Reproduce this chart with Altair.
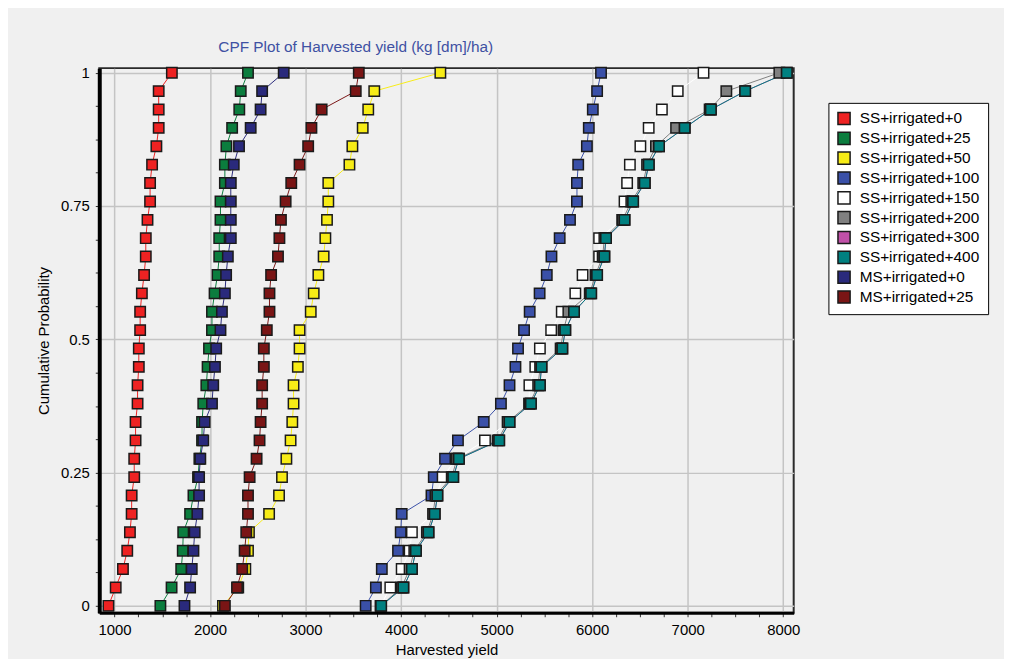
import altair as alt
import pandas as pd

FONT = "Liberation Sans"

series_names = [
    "SS+irrigated+0", "SS+irrigated+25", "SS+irrigated+50", "SS+irrigated+100",
    "SS+irrigated+150", "SS+irrigated+200", "SS+irrigated+300", "SS+irrigated+400",
    "MS+irrigated+0", "MS+irrigated+25",
]
series_colors = [
    "#ee2222", "#0b7d3e", "#f7ec16", "#3a50a8", "#ffffff",
    "#808080", "#c050a8", "#008080", "#2a2a7c", "#7a1515",
]

# cumulative probability levels (30 ranked years)
probabilities = [
    0.0, 0.0345, 0.0690, 0.1034, 0.1379, 0.1724, 0.2069, 0.2414, 0.2759, 0.3103,
    0.3448, 0.3793, 0.4138, 0.4483, 0.4828, 0.5172, 0.5517, 0.5862, 0.6207, 0.6552,
    0.6897, 0.7241, 0.7586, 0.7931, 0.8276, 0.8621, 0.8966, 0.9310, 0.9655, 1.0,
]

ss_0 = [936, 1012, 1088, 1133, 1161, 1179, 1179, 1206, 1206, 1220, 1220, 1241, 1241, 1254, 1254,
        1268, 1268, 1286, 1309, 1327, 1327, 1345, 1372, 1372, 1393, 1438, 1462, 1462, 1462, 1600]
ss_25 = [1480, 1597, 1698, 1714, 1719, 1791, 1826, 1874, 1888, 1916, 1916, 1929, 1961, 1974, 1989,
         2020, 2020, 2047, 2078, 2096, 2096, 2109, 2109, 2155, 2155, 2171, 2231, 2306, 2321, 2397]
ss_50 = [2135, 2295, 2369, 2397, 2407, 2618, 2722, 2753, 2799, 2843, 2861, 2874, 2874, 2919, 2937,
         2937, 3054, 3085, 3134, 3189, 3207, 3224, 3238, 3238, 3459, 3490, 3598, 3656, 3719, 4411]
ss_100 = [3629, 3736, 3798, 3968, 3996, 4006, 4318, 4342, 4460, 4595, 4865, 5045, 5135, 5197, 5224,
          5287, 5346, 5450, 5525, 5574, 5660, 5768, 5841, 5841, 5854, 5945, 5965, 6007, 6052, 6093]
ss_150 = [3785, 3887, 4006, 4089, 4113, 4340, 4370, 4435, 4577, 4878, 5120, 5340, 5343, 5405, 5453,
          5571, 5682, 5824, 5900, 6073, 6073, 6315, 6339, 6366, 6395, 6505, 6592, 6730, 6896, 7166]
ss_200 = [3788, 4005, 4089, 4138, 4270, 4335, 4360, 4530, 4585, 5010, 5115, 5345, 5435, 5455, 5670,
          5700, 5751, 5975, 6035, 6110, 6128, 6320, 6410, 6535, 6575, 6668, 6879, 7230, 7405, 7960]
ss_300 = [3791, 4024, 4113, 4155, 4287, 4352, 4380, 4546, 4605, 5027, 5135, 5359, 5453, 5470, 5688,
          5719, 5810, 5990, 6052, 6128, 6145, 6339, 6429, 6551, 6593, 6700, 6969, 7243, 7602, 8038]
ss_400 = [3791, 4024, 4113, 4155, 4287, 4352, 4380, 4546, 4605, 5027, 5135, 5359, 5453, 5470, 5688,
          5719, 5810, 5990, 6052, 6128, 6145, 6339, 6429, 6551, 6593, 6700, 6969, 7243, 7602, 8038]
ms_0 = [1732, 1791, 1808, 1826, 1839, 1867, 1885, 1885, 1898, 1929, 1943, 2020, 2033, 2051, 2064,
        2109, 2124, 2155, 2168, 2186, 2217, 2217, 2217, 2217, 2248, 2303, 2425, 2529, 2545, 2771]
ms_25 = [2155, 2282, 2337, 2362, 2379, 2397, 2397, 2414, 2487, 2518, 2529, 2545, 2545, 2563, 2563,
         2594, 2622, 2622, 2639, 2711, 2726, 2742, 2791, 2850, 2937, 3027, 3061, 3168, 3525, 3557]

series_values = [ss_0, ss_25, ss_50, ss_100, ss_150, ss_200, ss_300, ss_400, ms_0, ms_25]

x_ticks = [1000, 1250, 1500, 1750, 2000, 2250, 2500, 2750, 3000, 3250, 3500, 3750, 4000,
           4250, 4500, 4750, 5000, 5250, 5500, 5750, 6000, 6250, 6500, 6750, 7000, 7250,
           7500, 7750, 8000]
y_ticks = [0, 0.0625, 0.125, 0.1875, 0.25, 0.3125, 0.375, 0.4375, 0.5, 0.5625, 0.625,
           0.6875, 0.75, 0.8125, 0.875, 0.9375, 1.0]

rows = []
for name, col, vals in zip(series_names, series_colors, series_values):
    for k, (p, v) in enumerate(zip(probabilities, vals)):
        rows.append({"series": name, "line_color": col, "k": k, "yield": v, "prob": p})
df = pd.DataFrame(rows)

x_scale = alt.Scale(domain=[840, 8110], nice=False, zero=False)
y_scale = alt.Scale(domain=[-0.013, 1.0087], nice=False, zero=False)
fill_scale = alt.Scale(domain=series_names, range=series_colors)

x_axis = alt.Axis(
    values=x_ticks, format="d",
    labelExpr="datum.value % 1000 === 0 ? datum.label : ''",
    title="Harvested yield",
    grid=True,
    gridOpacity={"condition": {"test": "datum.value % 1000 === 0", "value": 1}, "value": 0},
    gridColor="#c4c4c4", gridWidth=1.5,
    domainColor="black", domainWidth=3,
    tickColor="#333333", tickSize=4, tickWidth=1,
    labelFont=FONT, labelFontSize=15, labelColor="black", labelPadding=6,
    labelFlush=False, labelOverlap=False,
    titleFont=FONT, titleFontSize=15, titleFontWeight="normal", titleColor="black",
    titlePadding=5,
)
y_axis = alt.Axis(
    values=y_ticks, format=".2~f",
    labelExpr="(datum.value * 4) % 1 === 0 ? datum.label : ''",
    title="Cumulative Probability",
    grid=True,
    gridOpacity={"condition": {"test": "(datum.value * 4) % 1 === 0", "value": 1}, "value": 0},
    gridColor="#c4c4c4", gridWidth=1.5,
    domainColor="black", domainWidth=4,
    tickColor="#333333", tickSize=4, tickWidth=1,
    labelFont=FONT, labelFontSize=15, labelColor="black", labelPadding=6,
    labelFlush=False, labelOverlap=False,
    titleFont=FONT, titleFontSize=15, titleFontWeight="normal", titleColor="black",
    titlePadding=9,
)

legend = alt.Legend(
    title=None, orient="none", legendX=735, legendY=35, direction="vertical",
    symbolType="square", symbolSize=150, symbolStrokeColor="#1a1a1a", symbolStrokeWidth=1.5,
    symbolOpacity=1,
    labelFont=FONT, labelFontSize=15.5, labelColor="black", labelOffset=8, labelLimit=300,
    rowPadding=1, padding=8, fillColor="white", strokeColor="black",
)

lines = alt.Chart(df).mark_line(strokeWidth=1).encode(
    x=alt.X("yield:Q", scale=x_scale, axis=x_axis),
    y=alt.Y("prob:Q", scale=y_scale, axis=y_axis),
    stroke=alt.Stroke("line_color:N", scale=None),
    detail="series:N",
    order=alt.Order("k:Q"),
)

points = alt.Chart(df).mark_square(
    size=110, filled=True, opacity=1, stroke="#1a1a1a", strokeWidth=1.5
).encode(
    x=alt.X("yield:Q", scale=x_scale, axis=x_axis),
    y=alt.Y("prob:Q", scale=y_scale, axis=y_axis),
    fill=alt.Fill("series:N", scale=fill_scale, legend=legend),
)

title = alt.TitleParams(
    text="CPF Plot of Harvested yield (kg [dm]/ha)",
    anchor="start", frame="group", dx=120, offset=9,
    font=FONT, fontSize=15.5, fontWeight="normal", color="#3f51a3",
)

chart = alt.layer(lines, points).properties(
    width=700, height=549, title=title, background="#f0f0f0",
    padding={"left": 92, "top": 58, "right": 212, "bottom": 44},
    autosize=alt.AutoSizeParams(type="none"),
).configure_view(stroke="#2a2a2a", strokeWidth=2, fill="#f0f0f0")

chart.save("out.html", embed_options={"renderer": "svg", "actions": False})
